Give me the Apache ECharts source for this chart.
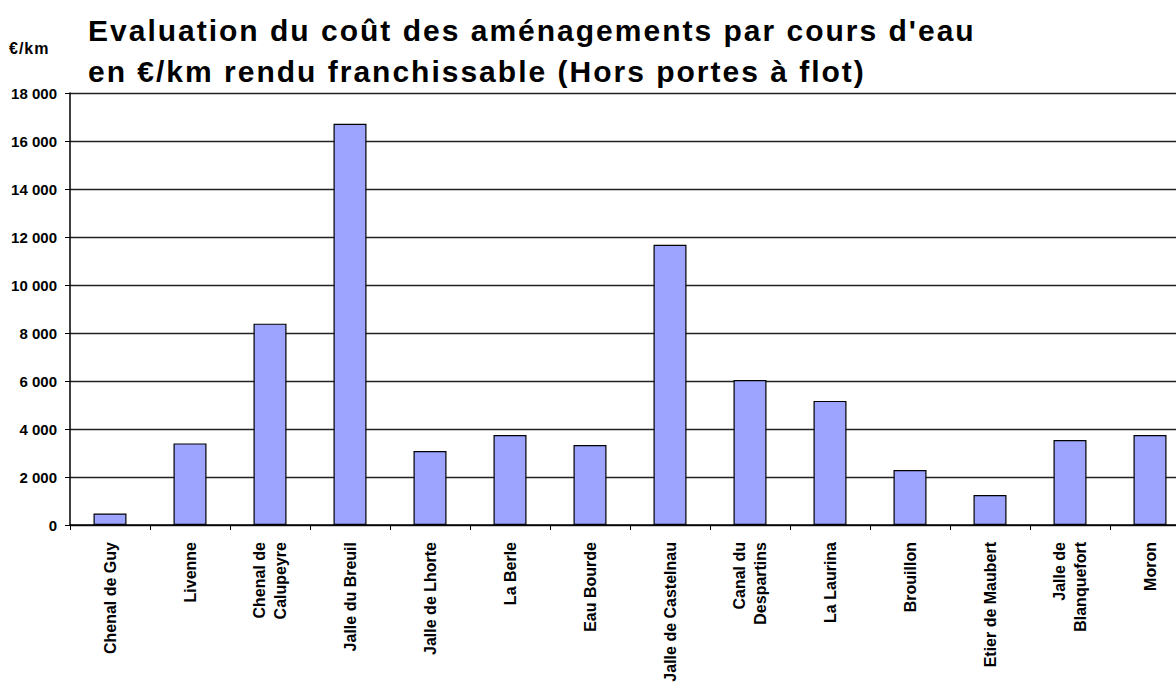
<!DOCTYPE html>
<html>
<head>
<meta charset="utf-8">
<script src="https://cdn.jsdelivr.net/npm/echarts@6/dist/echarts.min.js"></script>
<style>
  html, body { margin: 0; padding: 0; background: #fff; }
  #chart { width: 1176px; height: 683px; }
</style>
</head>
<body>
<div id="chart"></div>
<script>
// cours d'eau
var categories = [
    "Chenal de Guy", "Livenne", "Chenal de\nCalupeyre", "Jalle du Breuil",
    "Jalle de Lhorte", "La Berle", "Eau Bourde", "Jalle de Castelnau",
    "Canal du\nDespartins", "La Laurina", "Brouillon", "Etier de Maubert",
    "Jalle de\nBlanquefort", "Moron"
];
// €/km rendu franchissable
var costValues = [480, 3400, 8390, 16720, 3080, 3750, 3330, 11680, 6040, 5170, 2290, 1250, 3540, 3750];
var yTicks = [0, 2000, 4000, 6000, 8000, 10000, 12000, 14000, 16000, 18000];

var titleText = "Evaluation du coût des aménagements par cours d'eau\nen €/km rendu franchissable (Hors portes à flot)";
var font = '"Liberation Sans", Arial, sans-serif';

function fmt(v) {
    return String(v).replace(/\B(?=(\d{3})+(?!\d))/g, ' ');
}

// svg pour pouvoir espacer les lettres du titre (rendu excel plus large)
var myChart = echarts.init(document.getElementById('chart'), null, { renderer: 'svg' });
var option = {
    backgroundColor: '#fff',
    animation: false,
    title: {
        text: titleText,
        left: 83,
        top: 5,
        textStyle: {
            fontFamily: font,
            fontWeight: 'bold',
            fontSize: 30,
            lineHeight: 41,
            color: '#000'
        }
    },
    graphic: [{
        type: 'text',
        left: 9,
        top: 40,
        style: {
            text: '€/km',
            fontFamily: font,
            fontWeight: 'bold',
            fontSize: 16,
            fill: '#000'
        }
    }],
    grid: {
        left: 70,
        top: 93,
        width: 1120,
        height: 432,
        outerBoundsMode: 'none'
    },
    xAxis: {
        type: 'category',
        data: categories,
        axisLine: { show: true, lineStyle: { color: '#000', width: 1.5 } },
        axisTick: { show: true, length: 5, lineStyle: { color: '#000' } },
        axisLabel: {
            interval: 0,
            rotate: 90,
            margin: 17,
            fontFamily: font,
            fontWeight: 'bold',
            fontSize: 16,
            lineHeight: 21,
            color: '#000'
        }
    },
    yAxis: {
        type: 'value',
        min: yTicks[0],
        max: yTicks[yTicks.length - 1],
        interval: yTicks[1] - yTicks[0],
        axisLine: { show: true, lineStyle: { color: '#000', width: 1.5 } },
        axisTick: { show: true, length: 5, lineStyle: { color: '#000' } },
        axisLabel: {
            margin: 13,
            fontFamily: font,
            fontWeight: 'bold',
            fontSize: 15,
            color: '#000',
            formatter: fmt
        },
        splitLine: {
            show: true,
            lineStyle: {
                color: '#222',
                width: 1.4
            }
        }
    },
    series: [{
        type: 'bar',
        data: costValues,
        barWidth: 33,
        itemStyle: {
            color: '#9DA4FF',
            borderColor: '#000',
            borderWidth: 1.2
        }
    }]
};
myChart.setOption(option, true);

function spaceTitle() {
    var lines = titleText.split('\n');
    var nodes = document.querySelectorAll('#chart text');
    for (var i = 0; i < nodes.length; i++) {
        var t = nodes[i].textContent;
        if (lines.indexOf(t) >= 0 || t.indexOf('Evaluation') === 0) {
            nodes[i].style.letterSpacing = '2px';
        } else if (t === '€/km') {
            nodes[i].style.letterSpacing = '1px';
        }
    }
}
spaceTitle();
myChart.on('finished', spaceTitle);
</script>
</body>
</html>
